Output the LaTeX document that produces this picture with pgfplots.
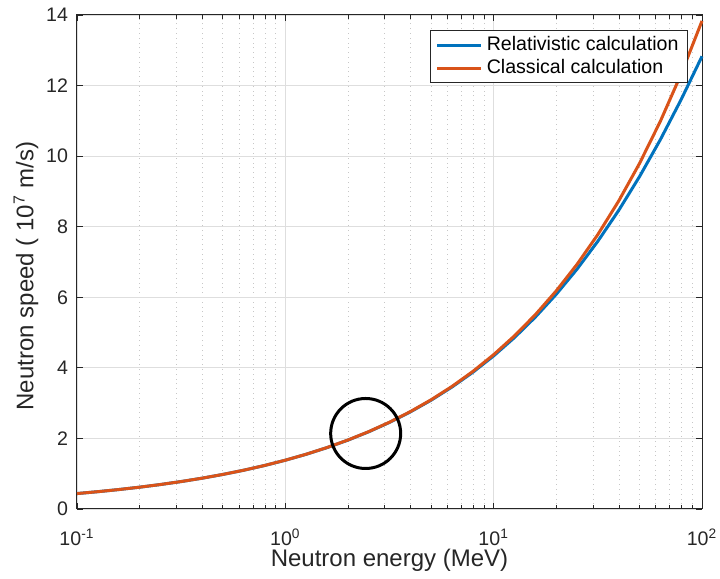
\documentclass[border=0pt]{standalone}
\usepackage{fontspec}
\setmainfont{Liberation Sans}
\usepackage{pgfplots}
\pgfplotsset{compat=1.18}
\definecolor{mblue}{rgb}{0,0.447,0.741}
\definecolor{morange}{rgb}{0.85,0.325,0.098}
\definecolor{axgray}{rgb}{0.15,0.15,0.15}
\begin{document}
\begin{tikzpicture}
\begin{axis}[
  name=ax,
  scale only axis,
  width=312.5pt, height=247pt,
  xmode=log,
  xmin=0.1, xmax=100, ymin=0, ymax=14,
  xtick={0.1,1,10,100},
  xticklabels={10\textsuperscript{-1},10\textsuperscript{0},10\textsuperscript{1},10\textsuperscript{2}},
  ytick={0,2,4,6,8,10,12,14},
  yticklabel style={/pgf/number format/assume math mode=true, xshift=-1pt},
  xticklabel style={yshift=-6.5pt},
  tick label style={font=\fontsize{9.8}{11}\selectfont, text=axgray},
  label style={font=\fontsize{12}{14}\selectfont, text=axgray},
  xlabel={Neutron energy (MeV)},
  ylabel={Neutron speed ( 10\textsuperscript{7} m/s)},
  xlabel style={yshift=5.5pt},
  ylabel style={yshift=-3pt, xshift=-7pt},
  tick align=inside,
  major tick length=3pt,
  minor tick length=1.8pt,
  every tick/.style={axgray, line width=0.4pt},
  axis line style={axgray, line width=0.5pt},
  xmajorgrids, ymajorgrids, xminorgrids,
  major grid style={black!13, line width=0.4pt},
  minor grid style={black!22, dotted, line width=0.4pt},
  legend style={at={(1,1)}, anchor=north east, xshift=-7pt, yshift=-7.5pt,
    font=\fontsize{9.8}{11}\selectfont, draw=axgray, line width=0.5pt,
    inner xsep=2.5pt, inner ysep=1pt, row sep=-1pt},
  legend cell align=left,
  legend image post style={line width=1.5pt},
  legend image code/.code={\draw[#1] (0pt,0pt) -- (22pt,0pt);},
  clip=false,
]
\addplot[mblue, line width=1.5pt] coordinates {
(0.1,0.43735) (0.12589,0.49071) (0.15849,0.55057) (0.19953,0.61772)
(0.25119,0.69307) (0.31623,0.77760) (0.39811,0.87244) (0.50119,0.97881)
(0.63096,1.09813) (0.79433,1.23196) (1,1.38205) (1.2589,1.55036)
(1.5849,1.73908) (1.9953,1.95067) (2.5119,2.18776) (3.1623,2.45343)
(3.9811,2.75102) (5.0119,3.08416) (6.3096,3.45691) (7.9433,3.87374)
(10,4.33935) (12.589,4.85890) (15.849,5.43789) (19.953,6.08188)
(25.119,6.79665) (31.623,7.58787) (39.811,8.46063) (50.119,9.41937)
(63.096,10.46685) (79.433,11.60425) (100,12.82923)
};
\addlegendentry{Relativistic calculation}
\addplot[morange, line width=1.5pt] coordinates {
(0.1,0.43739) (0.12589,0.49076) (0.15849,0.55064) (0.19953,0.61782)
(0.25119,0.69321) (0.31623,0.77780) (0.39811,0.87272) (0.50119,0.97920)
(0.63096,1.09868) (0.79433,1.23274) (1,1.38315) (1.2589,1.55192)
(1.5849,1.74128) (1.9953,1.95378) (2.5119,2.19215) (3.1623,2.45963)
(3.9811,2.75975) (5.0119,3.09648) (6.3096,3.47430) (7.9433,3.89826)
(10,4.37391) (12.589,4.90759) (15.849,5.50642) (19.953,6.17833)
(25.119,6.93217) (31.623,7.77808) (39.811,8.72717) (50.119,9.79208)
(63.096,10.98681) (79.433,12.32745) (100,13.8315)
};
\addlegendentry{Classical calculation}
\addplot[black, only marks, mark=o, mark size=17.5pt, mark options={line width=1.5pt}, forget plot] coordinates {(2.43,2.14)};
\end{axis}
\pgfresetboundingbox
\path[use as bounding box] ([shift={(-38.5pt,-35pt)}]ax.south west) rectangle ([shift={(9pt,7.5pt)}]ax.north east);
\end{tikzpicture}
\end{document}
